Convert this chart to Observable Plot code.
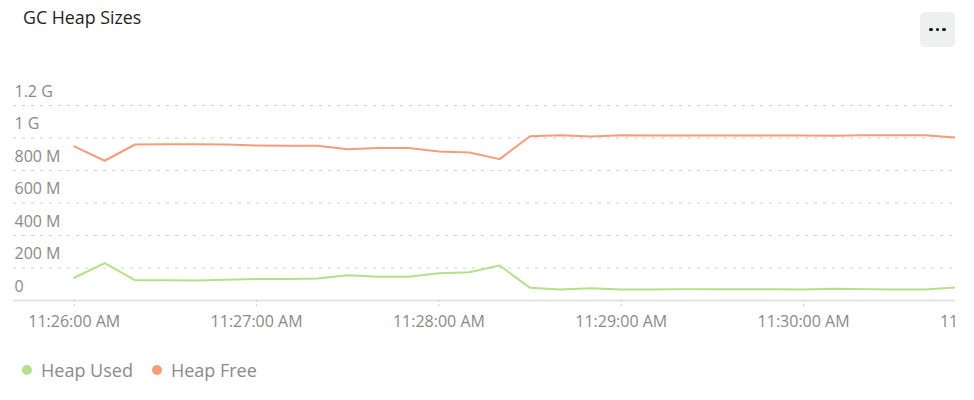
<!DOCTYPE html>
<html><head><meta charset="utf-8">
<script src="https://cdn.jsdelivr.net/npm/d3@7"></script>
<script src="https://cdn.jsdelivr.net/npm/@observablehq/plot@0.6"></script>
<style>
body{margin:0;background:#fff;font-family:"Open Sans",sans-serif;}
#wrap{position:relative;width:974px;height:400px;overflow:hidden;}
#title{position:absolute;left:23px;top:5px;font-size:17.8px;color:#1f1f1f;}
#btn{position:absolute;left:920px;top:12px;width:35px;height:35px;background:#eeefef;border-radius:5px;display:flex;align-items:center;justify-content:center;gap:3px;}
#btn span{width:3.5px;height:3.5px;border-radius:50%;background:#111;display:block;}
#chart{position:absolute;left:0;top:70px;width:956px;overflow:hidden;}
#legend{position:absolute;left:22px;top:358px;font-size:18px;color:#8a8a8a;display:flex;align-items:center;}
#legend .item{display:flex;align-items:center;margin-right:19px;}
#legend .dot{width:10px;height:10px;border-radius:50%;display:inline-block;margin-right:9px;}
</style>
</head><body>
<div id="wrap">
  <div id="title">GC Heap Sizes</div>
  <div id="btn"><span></span><span></span><span></span></div>
  <div id="chart"></div>
  <div id="legend"></div>
</div>
<script>
const day = "2020-01-01 ";
const times = ["11:26:00","11:26:10","11:26:20","11:26:30","11:26:40","11:26:50",
  "11:27:00","11:27:10","11:27:20","11:27:30","11:27:40","11:27:50",
  "11:28:00","11:28:10","11:28:20","11:28:30","11:28:40","11:28:50",
  "11:29:00","11:29:10","11:29:20","11:29:30","11:29:40","11:29:50",
  "11:30:00","11:30:10","11:30:20","11:30:30","11:30:40","11:30:50"];
const heapUsed = [140, 230, 125, 125, 123, 127, 133, 133, 135, 156, 146, 146, 168, 174, 215,
  78, 68, 76, 68, 68, 70, 70, 70, 70, 68, 72, 70, 68, 68, 80];
const heapFree = [948, 860, 960, 962, 962, 960, 954, 952, 952, 931, 939, 939, 917, 911, 870,
  1011, 1017, 1009, 1017, 1015, 1015, 1015, 1015, 1015, 1015, 1014, 1017, 1017, 1017, 1003];
const seriesNames = ["Heap Used", "Heap Free"];
const seriesColors = ["#b3e08a", "#f59c79"];
const yTicks = [0, 200, 400, 600, 800, 1000, 1200];
const yTickLabels = ["0", "200 M", "400 M", "600 M", "800 M", "1 G", "1.2 G"];
const xTickTimes = ["11:26:00", "11:27:00", "11:28:00", "11:29:00", "11:30:00", "11:31:00"];
const xTickLabels = ["11:26:00 AM", "11:27:00 AM", "11:28:00 AM", "11:29:00 AM", "11:30:00 AM", "11:31:00 AM"];
const xDomain = ["11:25:40", "11:30:50"];

const parse = d3.timeParse("%Y-%m-%d %H:%M:%S");
const data = [];
seriesNames.forEach((name, s) => {
  const vals = s === 0 ? heapUsed : heapFree;
  times.forEach((t, i) => data.push({time: parse(day + t), value: vals[i], series: name}));
});
const xTickDates = xTickTimes.map(t => parse(day + t));

const chart = Plot.plot({
  width: 955, height: 270,
  marginTop: 35, marginBottom: 40, marginLeft: 13, marginRight: 0,
  style: {fontFamily: "Open Sans", fontSize: "16px", color: "#8a8a8a", background: "transparent"},
  x: {type: "time", domain: xDomain.map(t => parse(day + t))},
  y: {domain: [0, 1200]},
  color: {domain: seriesNames, range: seriesColors},
  marks: [
    Plot.ruleY(yTicks.filter(d => d > 0), {stroke: "#cfcfcf", strokeDasharray: "3,6", strokeWidth: 1}),
    Plot.ruleY([0], {stroke: "#e3e3e3", strokeWidth: 2}),
    Plot.axisY({ticks: yTicks, tickFormat: d => yTickLabels[yTicks.indexOf(d)], tickSize: 0, tickPadding: 0,
      textAnchor: "start", dx: 1, dy: -14, label: null, fill: "#8a8a8a"}),
    Plot.axisX({ticks: xTickDates, tickFormat: d => xTickLabels[xTickDates.findIndex(t => +t === +d)],
      tickSize: 8, tickPadding: 7, stroke: "#cccccc", strokeDasharray: "2,2", label: null, fill: "#8a8a8a"}),
    Plot.line(data, {x: "time", y: "value", stroke: "series", strokeWidth: 2})
  ]
});
document.getElementById("chart").appendChild(chart);

const legend = document.getElementById("legend");
seriesNames.forEach((name, i) => {
  const item = document.createElement("div");
  item.className = "item";
  const dot = document.createElement("span");
  dot.className = "dot";
  dot.style.background = seriesColors[i];
  item.appendChild(dot);
  item.appendChild(document.createTextNode(name));
  legend.appendChild(item);
});
</script>
</body></html>
